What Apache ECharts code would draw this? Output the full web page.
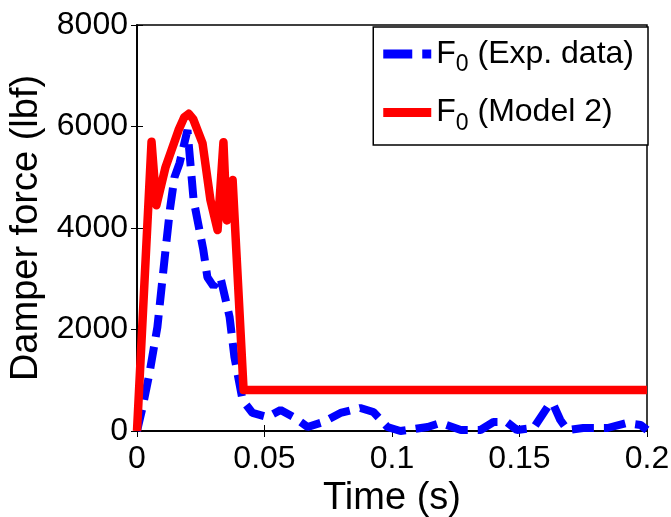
<!DOCTYPE html>
<html><head><meta charset="utf-8">
<script src="https://cdn.jsdelivr.net/npm/echarts@6/dist/echarts.min.js"></script>
<style>html,body{margin:0;padding:0;background:#fff}#c{width:671px;height:517px}</style>
</head><body><div id="c"></div>
<script>
const xTicks = [0, 0.05, 0.1, 0.15, 0.2];
const yTicks = [0, 2000, 4000, 6000, 8000];
const expX = [0, 0.0022, 0.0049, 0.008, 0.0112, 0.013, 0.0147, 0.0167, 0.0198, 0.0222, 0.026, 0.0276, 0.030, 0.0327, 0.0363, 0.0382, 0.0414, 0.0453, 0.0512, 0.0563, 0.0614, 0.0669, 0.0731, 0.0798, 0.0876, 0.0927, 0.0982, 0.1033, 0.114, 0.119, 0.127, 0.1347, 0.1398, 0.145, 0.149, 0.1555, 0.161, 0.163, 0.166, 0.1688, 0.175, 0.1845, 0.192, 0.1975, 0.2];
const expY = [0, 470, 1140, 2050, 3570, 4400, 5000, 5280, 5930, 4550, 3570, 3030, 2850, 3030, 2250, 1460, 610, 355, 276, 414, 276, 79, 177, 355, 453, 374, 79, 0, 79, 158, 20, 20, 177, 177, 20, 59, 473, 550, 217, 20, 59, 59, 158, 118, 20];
const modX = [0, 0.0057, 0.0076, 0.0112, 0.0163, 0.0185, 0.0203, 0.022, 0.0257, 0.0288, 0.0316, 0.0339, 0.0352, 0.0375, 0.0418, 0.2];
const modY = [0, 5700, 4450, 5200, 5930, 6180, 6250, 6150, 5670, 4550, 3960, 5690, 4150, 4945, 808, 808];
const names = ['exp', 'model'];

const zip = (a, b) => a.map((v, i) => [v, b[i]]);
const font = 'Liberation Sans, Arial, sans-serif';
const chart = echarts.init(document.getElementById('c'));
const legendRich = {
  a: {fontFamily: font, fontSize: 32, color: '#000'},
  s: {fontFamily: font, fontSize: 23, color: '#000', padding: [22, 0, 0, 0]}
};
const tickFmt = (list) => v => { const t = list.find(k => Math.abs(k - v) < 1e-9); return t === undefined ? '' : String(t); };
chart.setOption({
  animation: false,
  grid: {left: 137, right: 24, top: 25, bottom: 86, containLabel: false, outerBoundsMode: 'none', show: true, borderColor: '#000', borderWidth: 1.5, backgroundColor: '#fff'},
  xAxis: [{
    type: 'value', min: 0, max: 0.2, interval: 0.05,
    name: 'Time (s)', nameLocation: 'middle', nameGap: 42,
    nameTextStyle: {fontFamily: font, fontSize: 38, color: '#000'},
    axisLine: {show: true, lineStyle: {color: '#000', width: 1.5}},
    axisTick: {show: true, inside: true, length: 6, lineStyle: {color: '#000'}},
    axisLabel: {fontFamily: font, fontSize: 32, color: '#000', margin: 12, showMaxLabel: true, formatter: tickFmt(xTicks)},
    splitLine: {show: false}
  }, {
    type: 'value', min: 0, max: 0.2, interval: 0.05, position: 'top',
    axisLine: {show: true, lineStyle: {color: '#000', width: 1.5}},
    axisTick: {show: true, inside: true, length: 6, lineStyle: {color: '#000'}},
    axisLabel: {show: false}, splitLine: {show: false}
  }],
  yAxis: [{
    type: 'value', min: 0, max: 8000, interval: 2000,
    name: 'Damper force (lbf)', nameLocation: 'middle', nameGap: 88,
    nameTextStyle: {fontFamily: font, fontSize: 38, color: '#000'},
    axisLine: {show: true, lineStyle: {color: '#000', width: 1.5}},
    axisTick: {show: true, inside: true, length: 6, lineStyle: {color: '#000'}},
    axisLabel: {fontFamily: font, fontSize: 32, color: '#000', margin: 9, formatter: tickFmt(yTicks)},
    splitLine: {show: false}
  }, {
    type: 'value', min: 0, max: 8000, interval: 2000, position: 'right',
    axisLine: {show: true, lineStyle: {color: '#000', width: 1.5}},
    axisTick: {show: true, inside: true, length: 6, lineStyle: {color: '#000'}},
    axisLabel: {show: false}, splitLine: {show: false}
  }],
  legend: {
    orient: 'vertical', right: 23, top: 27,
    backgroundColor: '#fff', borderColor: '#000', borderWidth: 1.5,
    padding: [11, 14, 10, 10], itemGap: 20, itemWidth: 48, itemHeight: 9,
    symbolKeepAspect: false,
    data: [
      {name: 'exp', icon: 'path://M0,0H29V9H0ZM39,0H48V9H39Z'},
      {name: 'model', icon: 'path://M0,0H48V9H0Z'}
    ],
    formatter: n => n === 'exp' ? '{a|F}{s|0}{a| (Exp. data)}' : '{a|F}{s|0}{a| (Model 2)}',
    textStyle: {rich: legendRich}
  },
  series: [{
    name: 'exp', type: 'line', data: zip(expX, expY), showSymbol: false, symbol: 'none', z: 2,
    lineStyle: {color: '#0000ff', width: 8, type: [22, 10]}, itemStyle: {color: '#0000ff'}
  }, {
    name: 'model', type: 'line', data: zip(modX, modY), showSymbol: false, symbol: 'none', z: 3,
    lineStyle: {color: '#ff0000', width: 8.5, join: 'round'}, itemStyle: {color: '#ff0000'}
  }]
});
</script></body></html>
